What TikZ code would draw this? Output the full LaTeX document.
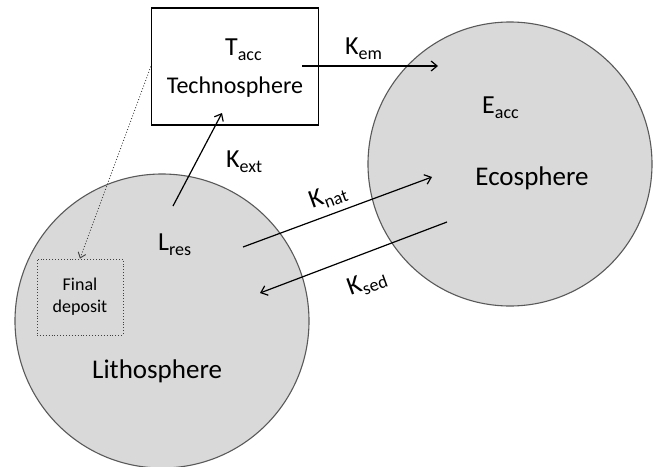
\documentclass[tikz,border=0pt]{standalone}
\usepackage{fontspec}
\setmainfont{Carlito}
\usetikzlibrary{arrows.meta}

% quantity symbol with a lowered index, as used for stocks and flows
\newcommand\symidx[2]{#1\raisebox{-5pt}{\fontsize{18}{18}\selectfont #2}}

\tikzset{
  sphere/.style={circle, draw=black!65, line width=1.1pt, fill=black!15, inner sep=0pt},
  techbox/.style={draw=black, line width=1.4pt, fill=white, inner sep=0pt},
  depbox/.style={draw=black!75, line width=0.9pt, dotted, inner sep=0pt},
  symb/.style={inner sep=0pt, anchor=base west, font=\fontsize{26}{26}\selectfont},
  bigname/.style={inner sep=0pt, anchor=base, font=\fontsize{27}{27}\selectfont},
  flow/.style={line width=1.2pt, -{Straight Barb[length=6pt,width=10pt,line width=1.2pt]}},
  rate/.style={inner sep=0pt, font=\fontsize{26}{26}\selectfont}
}

\begin{document}
\begin{tikzpicture}[x=1pt, y=-1pt]
  \useasboundingbox[fill=white] (0,0) rectangle (653,466);

  % the three compartments
  \node[sphere, minimum size=294pt] (litho) at (162,321) {};
  \node[sphere, minimum size=284pt] (eco) at (510,164) {};
  \node[techbox, minimum width=167pt, minimum height=117pt] (tech) at (235,66.5) {};
  \node[depbox, minimum width=86pt, minimum height=76pt] (deposit) at (80,297) {};

  % names and stocks
  \node[symb] (tacc) at (225,55) {\symidx{T}{acc}};
  \node[inner sep=0pt, anchor=base, font=\fontsize{24}{24}\selectfont] (techname) at (235,93) {Technosphere};
  \node[symb] (eacc) at (482,113) {\symidx{E}{acc}};
  \node[bigname] (econame) at (532,185) {Ecosphere};
  \node[symb] (lres) at (158,250) {\symidx{L}{res}};
  \node[bigname, anchor=base west] (lithoname) at (92,378) {Lithosphere};
  \node[inner sep=0pt, align=center, font=\fontsize{18}{22}\selectfont] (deptext) at (deposit.center) {Final\\deposit};

  % flow end points
  \coordinate (extA) at (173,206);
  \coordinate (extB) at (222,113);
  \coordinate (emA) at (302,66);
  \coordinate (emB) at (438,66);
  \coordinate (natA) at (243,247);
  \coordinate (natB) at (432,177);
  \coordinate (sedA) at (447,222);
  \coordinate (sedB) at (260,293);

  % flows between compartments
  \draw[flow] (extA) -- (extB);
  \draw[flow] (emA) -- (emB);
  \draw[flow] (natA) -- (natB);
  \draw[flow] (sedA) -- (sedB);
  \draw[black!75, line width=0.9pt, dotted, -{Straight Barb[length=5pt,width=8pt,line width=0.9pt]}]
    (tech.west) -- (deposit.north);

  % flow rates
  \node[symb] (kem) at (345,54) {\symidx{K}{em}};
  \node[symb] (kext) at (226,167) {\symidx{K}{ext}};
  \node[rate, rotate=20] (knat) at (328,197) {\symidx{K}{nat}};
  \node[rate, rotate=20] (ksed) at (367,283) {\symidx{K}{sed}};
\end{tikzpicture}
\end{document}
